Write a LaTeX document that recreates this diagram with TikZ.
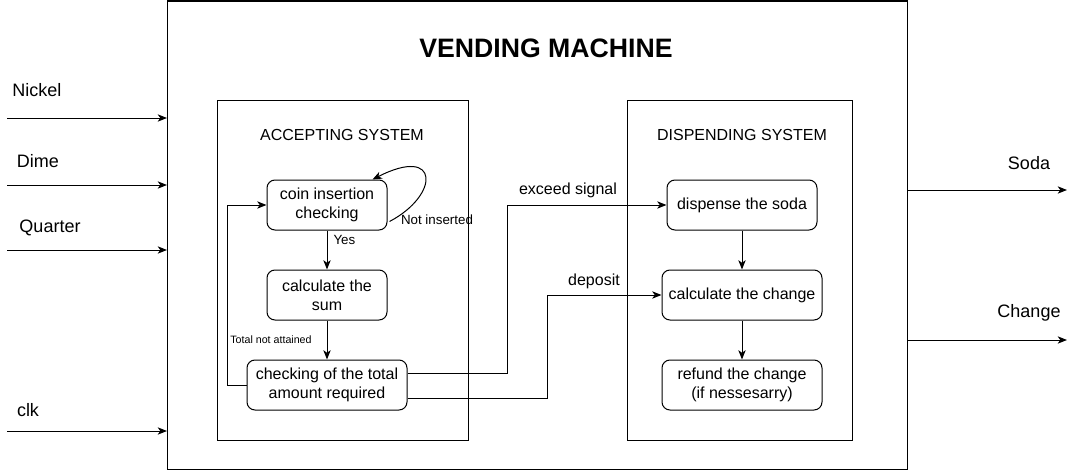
\documentclass[tikz,border=0pt]{standalone}
\usepackage{fontspec}
\setmainfont{Liberation Sans}
\usetikzlibrary{arrows.meta, calc}

\begin{document}
\begin{tikzpicture}[x=0.75pt, y=-0.75pt, line width=0.75pt,
    stage/.style={draw, rounded corners=6pt, align=center, inner sep=2pt,
        minimum height=37.5pt, font=\fontsize{12}{14}\selectfont},
    frame/.style={draw, inner sep=0pt, outer sep=0pt},
    arrow/.style={-{Stealth[length=7pt, width=5.5pt, inset=2pt]}},
    txt/.style={font=\fontsize{12}{14}\selectfont, inner sep=0pt},
    port/.style={font=\fontsize{13.5}{16}\selectfont, inner sep=0pt},
    small/.style={font=\fontsize{10}{12}\selectfont, inner sep=0pt}]
    \useasboundingbox (0,0) rectangle (1076,471);
    % frames
    \node[frame, minimum width=555pt, minimum height=351pt] at (537,235) (machine) {};
    \node[frame, minimum width=188.25pt, minimum height=255pt] at (342.5,270) (accept) {};
    \node[frame, minimum width=168.75pt, minimum height=255pt] at (739.5,270) (dispense box) {};
    \node[font=\fontsize{20}{24}\selectfont\bfseries] at (546,48) (title) {VENDING MACHINE};
    \node[txt] at (342,135) (accept label) {ACCEPTING SYSTEM};
    \node[txt] at (742,135) (dispense label) {DISPENDING SYSTEM};
    % accepting system
    \node[stage, minimum width=90pt] at (327,205) (coin) {coin insertion\\checking};
    \node[stage, minimum width=90pt] at (327,295) (sum) {calculate the\\sum};
    \node[stage, minimum width=120pt] at (327,385) (total) {checking of the total\\amount required};
    % dispensing system
    \node[stage, minimum width=112.5pt] at (742,205) (dispense) {dispense the soda};
    \node[stage, minimum width=120pt] at (742,295) (change) {calculate the change};
    \node[stage, minimum width=120pt] at (742,385) (refund) {refund the change\\(if nessesarry)};
    % labels
    \node[small, anchor=west] at (333,240) (yes) {Yes};
    \node[small] at (437,220) (not inserted) {Not inserted};
    \node[font=\fontsize{8}{10}\selectfont, inner sep=0pt] at (271,340) (not attained) {Total not attained};
    \node[txt] at (568,190) (exceed) {exceed signal};
    \node[txt] at (594,281) (deposit) {deposit};
    \draw[arrow] (coin) edge (sum);
    \draw[arrow] (sum) edge (total);
    \draw[arrow] (dispense) edge (change);
    \draw[arrow] (change) edge (refund);
    \draw[arrow] ($(coin.south east)+(2,-9)$) .. controls (440,195) and (440,145) .. ($(coin.north east)+(-15,0)$);
    \draw[arrow] (total.west) -- ++(-19,0) |- (coin.west);
    \draw[arrow] ($(total.east)+(0,-12)$) -- ++(100,0) |- (dispense.west);
    \draw[arrow] ($(total.east)+(0,13)$) -- ++(140,0) |- (change.west);
    % inputs and outputs
    \node[port] at (37,90) (nickel) {Nickel};
    \node[port] at (38,161) (dime) {Dime};
    \node[port] at (50,228) (quarter) {Quarter};
    \node[port] at (28,410) (clk) {clk};
    \node[port] at (1029,163) (soda) {Soda};
    \node[port] at (1029,313) (change out) {Change};
    \coordinate (nickel in) at (7,118);
    \coordinate (dime in) at (7,185);
    \coordinate (quarter in) at (7,250);
    \coordinate (clk in) at (7,431);
    \coordinate (soda out) at (1067,190);
    \coordinate (change end) at (1067,340);
    \draw[arrow] (nickel in) -- (nickel in -| machine.west);
    \draw[arrow] (dime in) -- (dime in -| machine.west);
    \draw[arrow] (quarter in) -- (quarter in -| machine.west);
    \draw[arrow] (clk in) -- (clk in -| machine.west);
    \draw[arrow] (soda out -| machine.east) -- (soda out);
    \draw[arrow] (change end -| machine.east) -- (change end);
\end{tikzpicture}
\end{document}
